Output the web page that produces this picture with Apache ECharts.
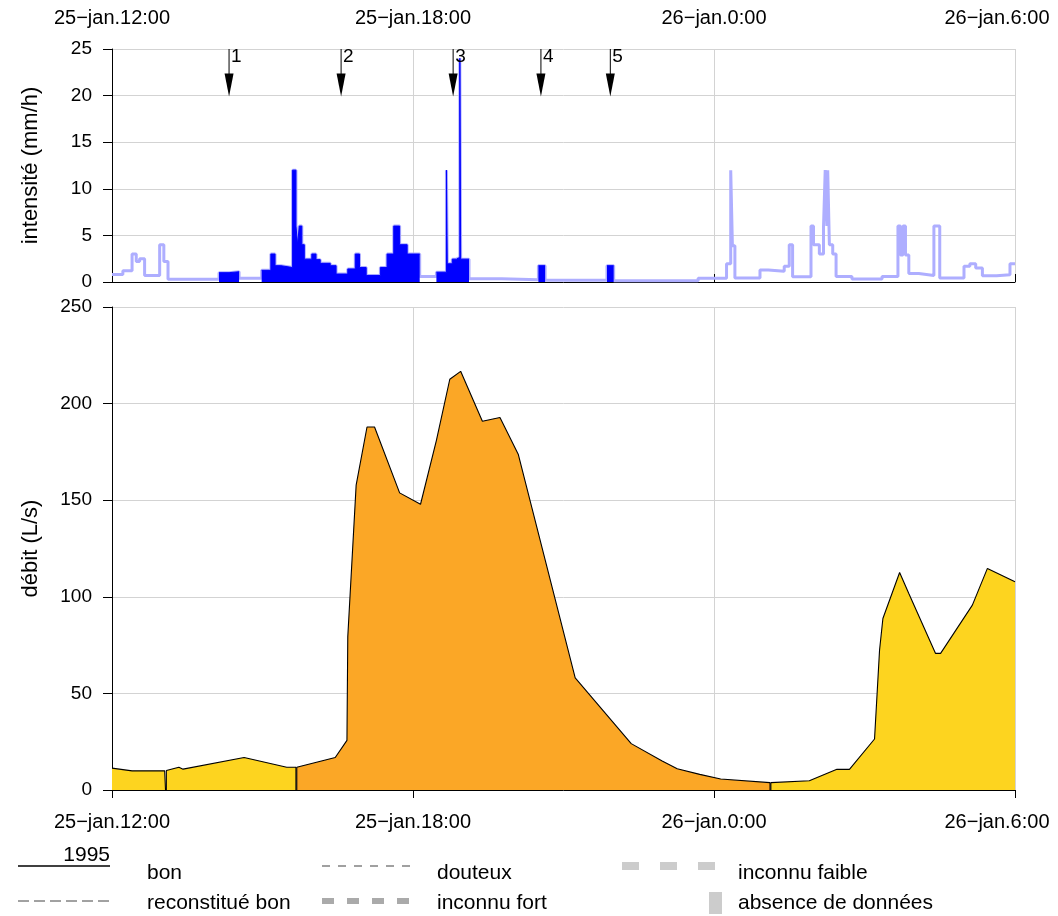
<!DOCTYPE html>
<html>
<head>
<meta charset="utf-8">
<script src="https://cdn.jsdelivr.net/npm/echarts@6/dist/echarts.min.js"></script>
<style>
  html, body { margin: 0; padding: 0; background: #ffffff; }
  #chart { width: 1058px; height: 916px; }
</style>
</head>
<body>
<div id="chart"></div>
<script>
// Time is counted in minutes after 25 January 1995, 12:00.
const timeTicks = ['25\u2212jan.12:00', '25\u2212jan.18:00', '26\u2212jan.0:00', '26\u2212jan.6:00'];
const tickStep = 360;
const timeEnd = 1080;

// Rain intensity (mm/h): each value holds from its start time until the next one.
const rainStart = [0, 13, 24, 29, 33, 39, 57, 62, 67, 128, 140, 152, 179, 190, 195, 202, 216, 220, 222, 224,
  227, 230, 239, 244, 249, 261, 268, 282, 291, 296, 304, 321, 329, 337, 344, 353, 368, 388, 400, 401,
  407, 412, 416, 417, 427, 466, 510, 518, 592, 600, 701, 735, 740, 742, 745, 775, 785, 804, 810, 814,
  836, 839, 846, 851, 853, 855, 856, 858, 862, 866, 885, 921, 940, 943, 946, 949, 953, 965, 983, 990,
  1019, 1026, 1033, 1041, 1058, 1074];
const rainValue = [0.8, 1.2, 3.0, 2.2, 2.5, 0.7, 4.0, 2.2, 0.3, 1.0, 1.1, 0.4, 1.25, 3.0, 1.75, 1.55, 12, 6, 4, 6,
  4, 2.45, 3, 2.4, 2, 1.75, 0.85, 1.4, 3, 1.55, 0.7, 1.55, 3, 6, 4, 3, 0.6, 1.05, 12, 1.95,
  2.45, 2.65, 24, 2.45, 0.35, 0.25, 1.75, 0.18, 1.75, 0.14, 0.4, 1.95, 12, 3.9, 0.43, 1.3, 1.15, 1.7, 4, 0.55,
  6, 4, 3, 6, 12, 6, 12, 4, 3, 0.6, 0.32, 0.6, 6, 2.9, 6, 2.9, 0.9, 0.7, 6, 0.43,
  1.7, 1.95, 1.5, 0.68, 0.78, 1.95];
// Periods of validated ("bon") rain, [from, to].
const bonPeriods = [[128, 152], [179, 368], [388, 427], [510, 518], [592, 600]];

// Numbered event markers on the rain panel.
const eventTimes = [140, 274, 408, 513, 596];
const eventLabels = ['1', '2', '3', '4', '5'];

// Discharge (L/s), one array pair per continuous record.
const flowA_t = [0, 24, 63, 64];
const flowA_v = [11.3, 9.9, 9.9, 9.9];
const flowB_t = [65, 80, 85, 158, 209, 220];
const flowB_v = [10.1, 11.8, 10.8, 16.8, 11.8, 11.8];
const flowC_t = [221, 267, 281, 282, 292, 305, 314, 344, 369, 388, 404, 417, 443, 464, 486, 554, 621, 658, 676, 703, 728, 787];
const flowC_v = [11.8, 16.8, 25.7, 79.3, 157.8, 187.9, 187.9, 153.8, 147.9, 181, 212.6, 216.7, 190.9, 192.8, 173.6, 58, 24, 15, 11, 8.1, 5.7, 3.8];
const flowD_t = [788, 834, 867, 882, 912, 918, 922, 942, 953, 985, 991, 1029, 1047, 1080];
const flowD_v = [3.8, 4.8, 10.7, 10.7, 26.4, 72.4, 88.8, 112.6, 101.7, 70.7, 70.7, 95.7, 114.7, 107.8];

const FONT = "'Liberation Sans', Arial, Helvetica, sans-serif";
const GRID = '#D3D3D3';
const YELLOW = '#FDD41F';
const ORANGE = '#FBA726';

// full rain record as a step line
const rainAll = rainStart.map((t, i) => [t, rainValue[i]]);
rainAll.push([timeEnd, rainValue[rainValue.length - 1]]);

// validated parts only, separated by gaps
const rainBon = [];
bonPeriods.forEach(([a, b]) => {
  let last = null;
  rainStart.forEach((t, i) => {
    if (t >= a && t < b) { rainBon.push([t, rainValue[i]]); last = rainValue[i]; }
  });
  rainBon.push([b, last]);
  rainBon.push([b, null]);
});

// discharge record, closed down to the axis where the record breaks
function flowSeries(ts, vs, color, closeStart, closeEnd) {
  const d = ts.map((t, i) => [t, vs[i]]);
  if (closeStart) d.unshift([ts[0], 0]);
  if (closeEnd) d.push([ts[ts.length - 1], 0]);
  return {
    type: 'line', xAxisIndex: 2, yAxisIndex: 1, data: d,
    symbol: 'none', z: 3,
    lineStyle: { color: '#000', width: 1.1 },
    areaStyle: { color: color, opacity: 1, origin: 'start' }
  };
}

// last time label is pulled inside the page edge
const tickFmt = v => {
  const i = Math.round(v / tickStep);
  if (i === timeTicks.length - 1) return '{last|' + timeTicks[i] + '}';
  return timeTicks[i] || '';
};
const timeLabel = {
  formatter: tickFmt, fontSize: 20, color: '#000', fontFamily: FONT,
  rich: { last: { fontSize: 20, color: '#000', fontFamily: FONT, padding: [0, 36, 0, 0] } }
};

const xBase = { type: 'value', min: 0, max: timeEnd, interval: tickStep };

const yBase = {
  type: 'value', nameLocation: 'middle', nameGap: 70, nameRotate: 90,
  nameTextStyle: { fontSize: 22, color: '#000', fontFamily: FONT },
  axisLine: { show: true, lineStyle: { color: '#000', width: 1 } },
  axisTick: { show: true, length: 9, lineStyle: { color: '#000' } },
  axisLabel: { fontSize: 19, color: '#000', margin: 20, fontFamily: FONT },
  splitLine: { show: true, lineStyle: { color: GRID, width: 1 } }
};

const option = {
  animation: false,
  backgroundColor: '#ffffff',
  textStyle: { fontFamily: FONT },
  grid: [
    { left: 112, right: 43, top: 49, height: 233, outerBoundsMode: 'none', containLabel: false },
    { left: 112, right: 43, top: 307, height: 483, outerBoundsMode: 'none', containLabel: false }
  ],
  xAxis: [
    Object.assign({}, xBase, {
      gridIndex: 0, position: 'top',
      axisLine: { show: false },
      axisTick: { show: true, length: 8, lineStyle: { color: '#000' } },
      axisLabel: Object.assign({}, timeLabel, { margin: 21 }),
      splitLine: { show: true, lineStyle: { color: GRID, width: 1 } }
    }),
    Object.assign({}, xBase, {
      gridIndex: 0, position: 'bottom',
      axisLine: { show: true, onZero: false, lineStyle: { color: '#000', width: 1 } },
      axisTick: { show: false }, axisLabel: { show: false }, splitLine: { show: false }
    }),
    Object.assign({}, xBase, {
      gridIndex: 1, position: 'bottom',
      axisLine: { show: true, onZero: false, lineStyle: { color: '#000', width: 1 } },
      axisTick: { show: true, length: 8, lineStyle: { color: '#000' } },
      axisLabel: Object.assign({}, timeLabel, { margin: 22 }),
      splitLine: { show: true, lineStyle: { color: GRID, width: 1 } }
    })
  ],
  yAxis: [
    Object.assign({}, yBase, { gridIndex: 0, min: 0, max: 25, interval: 5, name: 'intensité (mm/h)' }),
    Object.assign({}, yBase, { gridIndex: 1, min: 0, max: 250, interval: 50, name: 'débit (L/s)' })
  ],
  series: [
    {
      type: 'line', xAxisIndex: 0, yAxisIndex: 0, data: rainAll,
      step: 'end', symbol: 'none', z: 2,
      lineStyle: { color: '#AEAEFF', width: 3 }
    },
    {
      type: 'line', xAxisIndex: 0, yAxisIndex: 0, data: rainBon,
      step: 'end', symbol: 'none', z: 3, connectNulls: false,
      lineStyle: { color: '#0000FF', width: 1 },
      areaStyle: { color: '#0000FF', opacity: 1 }
    },
    {
      type: 'custom', xAxisIndex: 0, yAxisIndex: 0, z: 5, clip: false,
      data: eventTimes.map(t => [t, 25, 20]),
      renderItem: function (params, api) {
        const top = api.coord([api.value(0), api.value(1)]);
        const tip = api.coord([api.value(0), api.value(2)]);
        const head = 22, half = 4.5;
        return {
          type: 'group',
          children: [
            { type: 'line', shape: { x1: top[0], y1: top[1], x2: tip[0], y2: tip[1] - head + 1 },
              style: { stroke: '#000', lineWidth: 1 } },
            { type: 'polygon', shape: { points: [[tip[0] - half, tip[1] - head], [tip[0] + half, tip[1] - head], [tip[0], tip[1] + 1]] },
              style: { fill: '#000' } },
            { type: 'text', style: { x: top[0] + 2, y: top[1] - 2, text: eventLabels[params.dataIndex],
              fill: '#000', font: '19px ' + FONT, align: 'left', verticalAlign: 'top' } }
          ]
        };
      }
    },
    flowSeries(flowA_t, flowA_v, YELLOW, false, true),
    flowSeries(flowB_t, flowB_v, YELLOW, true, true),
    flowSeries(flowC_t, flowC_v, ORANGE, true, true),
    flowSeries(flowD_t, flowD_v, YELLOW, true, false)
  ],
  graphic: [
    { type: 'text', style: { x: 110, y: 855, text: '1995', fill: '#000', font: '21px ' + FONT, align: 'right', verticalAlign: 'middle' } },
    { type: 'line', shape: { x1: 18, y1: 866, x2: 110, y2: 866 }, style: { stroke: '#000', lineWidth: 1.5 } },
    { type: 'text', style: { x: 147, y: 873, text: 'bon', fill: '#000', font: '21px ' + FONT, verticalAlign: 'middle' } },
    { type: 'line', shape: { x1: 18, y1: 901, x2: 110, y2: 901 }, style: { stroke: '#444', lineWidth: 1, lineDash: [11, 5] } },
    { type: 'text', style: { x: 147, y: 903, text: 'reconstitué bon', fill: '#000', font: '21px ' + FONT, verticalAlign: 'middle' } },
    { type: 'line', shape: { x1: 322, y1: 866, x2: 412, y2: 866 }, style: { stroke: '#A0A0A0', lineWidth: 2, lineDash: [8, 8] } },
    { type: 'text', style: { x: 437, y: 873, text: 'douteux', fill: '#000', font: '21px ' + FONT, verticalAlign: 'middle' } },
    { type: 'line', shape: { x1: 322, y1: 901, x2: 412, y2: 901 }, style: { stroke: '#AAAAAA', lineWidth: 6, lineDash: [12, 13] } },
    { type: 'text', style: { x: 437, y: 903, text: 'inconnu fort', fill: '#000', font: '21px ' + FONT, verticalAlign: 'middle' } },
    { type: 'line', shape: { x1: 622, y1: 866, x2: 716, y2: 866 }, style: { stroke: '#CCCCCC', lineWidth: 8, lineDash: [17, 21] } },
    { type: 'text', style: { x: 738, y: 873, text: 'inconnu faible', fill: '#000', font: '21px ' + FONT, verticalAlign: 'middle' } },
    { type: 'rect', shape: { x: 709, y: 892, width: 13, height: 22 }, style: { fill: '#CCCCCC' } },
    { type: 'text', style: { x: 738, y: 903, text: 'absence de données', fill: '#000', font: '21px ' + FONT, verticalAlign: 'middle' } }
  ]
};

const chart = echarts.init(document.getElementById('chart'), null, { renderer: 'canvas' });
chart.setOption(option);
</script>
</body>
</html>
